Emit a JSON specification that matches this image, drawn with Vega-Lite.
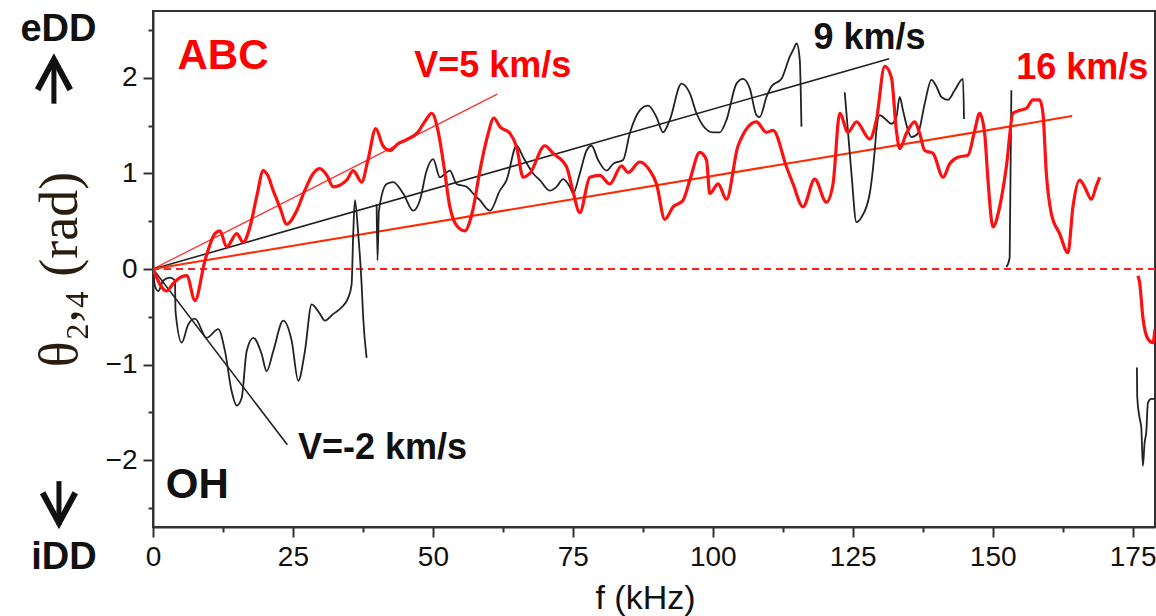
{
  "$schema": "https://vega.github.io/schema/vega-lite/v6.json",
  "width": 1002,
  "height": 516,
  "autosize": {"type": "none"},
  "padding": {"left": 153, "top": 11, "right": 1, "bottom": 89},
  "background": "white",
  "config": {
    "view": {"stroke": "#333", "strokeWidth": 2},
    "axis": {
      "domainColor": "#333",
      "domainWidth": 2,
      "tickColor": "#333",
      "tickWidth": 2,
      "grid": false,
      "labelFont": "Liberation Sans Narrow, Liberation Sans, Arial, sans-serif",
      "labelFontSize": 28,
      "labelColor": "#111",
      "titleColor": "#111"
    }
  },
  "datasets": {
    "curves": [
      {"series": "ABC", "seg": "a1", "f": 0, "v": 0},
      {"series": "ABC", "seg": "a1", "f": 2.45, "v": -0.23},
      {"series": "ABC", "seg": "a1", "f": 3.63, "v": -0.15},
      {"series": "ABC", "seg": "a1", "f": 4.82, "v": -0.09},
      {"series": "ABC", "seg": "a1", "f": 6.02, "v": -0.07},
      {"series": "ABC", "seg": "a1", "f": 7.5, "v": -0.33},
      {"series": "ABC", "seg": "a1", "f": 9.29, "v": 0.09},
      {"series": "ABC", "seg": "a1", "f": 11.07, "v": 0.37},
      {"series": "ABC", "seg": "a1", "f": 11.96, "v": 0.4},
      {"series": "ABC", "seg": "a1", "f": 13.16, "v": 0.23},
      {"series": "ABC", "seg": "a1", "f": 14.95, "v": 0.37},
      {"series": "ABC", "seg": "a1", "f": 16.13, "v": 0.28},
      {"series": "ABC", "seg": "a1", "f": 17.32, "v": 0.44},
      {"series": "ABC", "seg": "a1", "f": 18.57, "v": 0.77},
      {"series": "ABC", "seg": "a1", "f": 19.7, "v": 1.03},
      {"series": "ABC", "seg": "a1", "f": 20.5, "v": 0.98},
      {"series": "ABC", "seg": "a1", "f": 21.48, "v": 0.82},
      {"series": "ABC", "seg": "a1", "f": 22.7, "v": 0.64},
      {"series": "ABC", "seg": "a1", "f": 23.88, "v": 0.47},
      {"series": "ABC", "seg": "a1", "f": 25.66, "v": 0.61},
      {"series": "ABC", "seg": "a1", "f": 27.1, "v": 0.82},
      {"series": "ABC", "seg": "a1", "f": 28.63, "v": 1.0},
      {"series": "ABC", "seg": "a1", "f": 29.8, "v": 1.05},
      {"series": "ABC", "seg": "a1", "f": 31.07, "v": 0.98},
      {"series": "ABC", "seg": "a1", "f": 32.2, "v": 0.86},
      {"series": "ABC", "seg": "a1", "f": 34.59, "v": 0.93},
      {"series": "ABC", "seg": "a1", "f": 35.77, "v": 1.03},
      {"series": "ABC", "seg": "a1", "f": 37.27, "v": 0.91},
      {"series": "ABC", "seg": "a1", "f": 38.4, "v": 1.14},
      {"series": "ABC", "seg": "a1", "f": 39.8, "v": 1.47},
      {"series": "ABC", "seg": "a1", "f": 41.07, "v": 1.29},
      {"series": "ABC", "seg": "a1", "f": 42.3, "v": 1.24},
      {"series": "ABC", "seg": "a1", "f": 43.75, "v": 1.31},
      {"series": "ABC", "seg": "a1", "f": 45.2, "v": 1.35},
      {"series": "ABC", "seg": "a1", "f": 47.3, "v": 1.43},
      {"series": "ABC", "seg": "a1", "f": 48.75, "v": 1.56},
      {"series": "ABC", "seg": "a1", "f": 49.8, "v": 1.63},
      {"series": "ABC", "seg": "a1", "f": 50.9, "v": 1.45},
      {"series": "ABC", "seg": "a1", "f": 51.96, "v": 1.08},
      {"series": "ABC", "seg": "a1", "f": 53.0, "v": 0.66},
      {"series": "ABC", "seg": "a1", "f": 54.3, "v": 0.45},
      {"series": "ABC", "seg": "a1", "f": 55.7, "v": 0.4},
      {"series": "ABC", "seg": "a1", "f": 57.1, "v": 0.61},
      {"series": "ABC", "seg": "a1", "f": 58.4, "v": 1.03},
      {"series": "ABC", "seg": "a1", "f": 59.8, "v": 1.4},
      {"series": "ABC", "seg": "a1", "f": 60.9, "v": 1.58},
      {"series": "ABC", "seg": "a1", "f": 61.96, "v": 1.49},
      {"series": "ABC", "seg": "a1", "f": 63.75, "v": 1.42},
      {"series": "ABC", "seg": "a1", "f": 64.95, "v": 1.28},
      {"series": "ABC", "seg": "a1", "f": 66.13, "v": 0.96},
      {"series": "ABC", "seg": "a1", "f": 67.32, "v": 1.0},
      {"series": "ABC", "seg": "a1", "f": 70.0, "v": 1.29},
      {"series": "ABC", "seg": "a1", "f": 71.48, "v": 1.21},
      {"series": "ABC", "seg": "a1", "f": 73.87, "v": 1.07},
      {"series": "ABC", "seg": "a1", "f": 75.0, "v": 0.82},
      {"series": "ABC", "seg": "a1", "f": 76.25, "v": 0.59},
      {"series": "ABC", "seg": "a1", "f": 78.04, "v": 0.96},
      {"series": "ABC", "seg": "a1", "f": 79.82, "v": 0.98},
      {"series": "ABC", "seg": "a1", "f": 81.6, "v": 0.89},
      {"series": "ABC", "seg": "a1", "f": 83.7, "v": 1.08},
      {"series": "ABC", "seg": "a1", "f": 84.88, "v": 1.01},
      {"series": "ABC", "seg": "a1", "f": 86.96, "v": 1.12},
      {"series": "ABC", "seg": "a1", "f": 88.75, "v": 1.03},
      {"series": "ABC", "seg": "a1", "f": 89.95, "v": 0.89},
      {"series": "ABC", "seg": "a1", "f": 91.43, "v": 0.52},
      {"series": "ABC", "seg": "a1", "f": 92.91, "v": 0.65},
      {"series": "ABC", "seg": "a1", "f": 94.7, "v": 0.72},
      {"series": "ABC", "seg": "a1", "f": 95.9, "v": 0.93},
      {"series": "ABC", "seg": "a1", "f": 97.68, "v": 1.22},
      {"series": "ABC", "seg": "a1", "f": 98.88, "v": 1.14},
      {"series": "ABC", "seg": "a1", "f": 99.46, "v": 0.79},
      {"series": "ABC", "seg": "a1", "f": 100.95, "v": 0.89},
      {"series": "ABC", "seg": "a1", "f": 102.45, "v": 0.73},
      {"series": "ABC", "seg": "a1", "f": 104.52, "v": 1.29},
      {"series": "ABC", "seg": "a1", "f": 107.8, "v": 1.54},
      {"series": "ABC", "seg": "a1", "f": 109.59, "v": 1.43},
      {"series": "ABC", "seg": "a1", "f": 110.77, "v": 1.45},
      {"series": "ABC", "seg": "a1", "f": 113.16, "v": 1.07},
      {"series": "ABC", "seg": "a1", "f": 114.34, "v": 0.89},
      {"series": "ABC", "seg": "a1", "f": 116.13, "v": 0.65},
      {"series": "ABC", "seg": "a1", "f": 118.21, "v": 0.94},
      {"series": "ABC", "seg": "a1", "f": 120.3, "v": 0.7},
      {"series": "ABC", "seg": "a1", "f": 121.48, "v": 0.89},
      {"series": "ABC", "seg": "a1", "f": 122.68, "v": 1.63},
      {"series": "ABC", "seg": "a1", "f": 124.16, "v": 1.43},
      {"series": "ABC", "seg": "a1", "f": 125.66, "v": 1.54},
      {"series": "ABC", "seg": "a1", "f": 128.04, "v": 1.36},
      {"series": "ABC", "seg": "a1", "f": 129.23, "v": 1.56},
      {"series": "ABC", "seg": "a1", "f": 130.7, "v": 2.12},
      {"series": "ABC", "seg": "a1", "f": 131.9, "v": 2.01},
      {"series": "ABC", "seg": "a1", "f": 132.8, "v": 1.45},
      {"series": "ABC", "seg": "a1", "f": 133.39, "v": 1.26},
      {"series": "ABC", "seg": "a1", "f": 134.59, "v": 1.42},
      {"series": "ABC", "seg": "a1", "f": 136.07, "v": 1.54},
      {"series": "ABC", "seg": "a1", "f": 136.96, "v": 1.42},
      {"series": "ABC", "seg": "a1", "f": 137.86, "v": 1.24},
      {"series": "ABC", "seg": "a1", "f": 139.34, "v": 1.21},
      {"series": "ABC", "seg": "a1", "f": 141.13, "v": 0.96},
      {"series": "ABC", "seg": "a1", "f": 142.32, "v": 1.1},
      {"series": "ABC", "seg": "a1", "f": 143.8, "v": 1.17},
      {"series": "ABC", "seg": "a1", "f": 145.59, "v": 1.19},
      {"series": "ABC", "seg": "a1", "f": 146.79, "v": 1.45},
      {"series": "ABC", "seg": "a1", "f": 147.68, "v": 1.63},
      {"series": "ABC", "seg": "a1", "f": 148.57, "v": 1.42},
      {"series": "ABC", "seg": "a1", "f": 149.16, "v": 0.93},
      {"series": "ABC", "seg": "a1", "f": 150.05, "v": 0.44},
      {"series": "ABC", "seg": "a1", "f": 151.25, "v": 0.65},
      {"series": "ABC", "seg": "a1", "f": 152.45, "v": 1.07},
      {"series": "ABC", "seg": "a1", "f": 153.63, "v": 1.63},
      {"series": "ABC", "seg": "a1", "f": 154.82, "v": 1.66},
      {"series": "ABC", "seg": "a1", "f": 156.02, "v": 1.68},
      {"series": "ABC", "seg": "a1", "f": 157.2, "v": 1.77},
      {"series": "ABC", "seg": "a1", "f": 158.39, "v": 1.77},
      {"series": "ABC", "seg": "a1", "f": 158.98, "v": 1.63},
      {"series": "ABC", "seg": "a1", "f": 159.59, "v": 1.0},
      {"series": "ABC", "seg": "a1", "f": 160.48, "v": 0.58},
      {"series": "ABC", "seg": "a1", "f": 161.96, "v": 0.37},
      {"series": "ABC", "seg": "a1", "f": 163.45, "v": 0.17},
      {"series": "ABC", "seg": "a1", "f": 164.34, "v": 0.65},
      {"series": "ABC", "seg": "a1", "f": 165.54, "v": 0.93},
      {"series": "ABC", "seg": "a1", "f": 166.43, "v": 0.86},
      {"series": "ABC", "seg": "a1", "f": 167.63, "v": 0.73},
      {"series": "ABC", "seg": "a1", "f": 168.52, "v": 0.87},
      {"series": "ABC", "seg": "a1", "f": 169.11, "v": 0.96},
      {"series": "ABC", "seg": "a2", "f": 175.95, "v": -0.07},
      {"series": "ABC", "seg": "a2", "f": 176.25, "v": -0.14},
      {"series": "ABC", "seg": "a2", "f": 176.84, "v": -0.51},
      {"series": "ABC", "seg": "a2", "f": 177.73, "v": -0.73},
      {"series": "ABC", "seg": "a2", "f": 178.63, "v": -0.77},
      {"series": "ABC", "seg": "a2", "f": 179.0, "v": -0.63},
      {"series": "OH", "seg": "b1", "f": 0, "v": 0},
      {"series": "OH", "seg": "b1", "f": 0.36, "v": -0.18},
      {"series": "OH", "seg": "b1", "f": 0.95, "v": -0.23},
      {"series": "OH", "seg": "b1", "f": 1.84, "v": -0.12},
      {"series": "OH", "seg": "b1", "f": 3.04, "v": -0.09},
      {"series": "OH", "seg": "b1", "f": 3.93, "v": -0.12},
      {"series": "OH", "seg": "b1", "f": 4.02, "v": -0.44},
      {"series": "OH", "seg": "b1", "f": 5.13, "v": -0.77},
      {"series": "OH", "seg": "b1", "f": 6.3, "v": -0.58},
      {"series": "OH", "seg": "b1", "f": 7.5, "v": -0.52},
      {"series": "OH", "seg": "b1", "f": 9.59, "v": -0.72},
      {"series": "OH", "seg": "b1", "f": 11.66, "v": -0.63},
      {"series": "OH", "seg": "b1", "f": 12.86, "v": -0.86},
      {"series": "OH", "seg": "b1", "f": 14.05, "v": -1.28},
      {"series": "OH", "seg": "b1", "f": 14.95, "v": -1.43},
      {"series": "OH", "seg": "b1", "f": 15.84, "v": -1.35},
      {"series": "OH", "seg": "b1", "f": 16.73, "v": -0.86},
      {"series": "OH", "seg": "b1", "f": 17.91, "v": -0.72},
      {"series": "OH", "seg": "b1", "f": 19.41, "v": -0.89},
      {"series": "OH", "seg": "b1", "f": 20.3, "v": -1.07},
      {"series": "OH", "seg": "b1", "f": 21.48, "v": -0.86},
      {"series": "OH", "seg": "b1", "f": 23.27, "v": -0.54},
      {"series": "OH", "seg": "b1", "f": 24.77, "v": -0.75},
      {"series": "OH", "seg": "b1", "f": 25.95, "v": -1.17},
      {"series": "OH", "seg": "b1", "f": 27.14, "v": -0.86},
      {"series": "OH", "seg": "b1", "f": 28.34, "v": -0.37},
      {"series": "OH", "seg": "b1", "f": 29.82, "v": -0.47},
      {"series": "OH", "seg": "b1", "f": 30.71, "v": -0.54},
      {"series": "OH", "seg": "b1", "f": 32.2, "v": -0.47},
      {"series": "OH", "seg": "b1", "f": 33.7, "v": -0.4},
      {"series": "OH", "seg": "b1", "f": 34.88, "v": -0.3},
      {"series": "OH", "seg": "b1", "f": 35.48, "v": -0.16},
      {"series": "OH", "seg": "b1", "f": 35.77, "v": 0.37},
      {"series": "OH", "seg": "b1", "f": 36.07, "v": 0.72},
      {"series": "OH", "seg": "b1", "f": 36.66, "v": 0.37},
      {"series": "OH", "seg": "b1", "f": 37.27, "v": -0.16},
      {"series": "OH", "seg": "b1", "f": 37.55, "v": -0.51},
      {"series": "OH", "seg": "b1", "f": 38.16, "v": -0.93},
      {"series": "OH", "seg": "b2", "f": 39.95, "v": 0.68},
      {"series": "OH", "seg": "b2", "f": 40.1, "v": 0.09},
      {"series": "OH", "seg": "b2", "f": 40.36, "v": 0.61},
      {"series": "OH", "seg": "b2", "f": 41.73, "v": 0.89},
      {"series": "OH", "seg": "b2", "f": 42.91, "v": 0.91},
      {"series": "OH", "seg": "b2", "f": 44.7, "v": 0.79},
      {"series": "OH", "seg": "b2", "f": 46.48, "v": 0.61},
      {"series": "OH", "seg": "b2", "f": 47.68, "v": 0.72},
      {"series": "OH", "seg": "b2", "f": 48.88, "v": 1.03},
      {"series": "OH", "seg": "b2", "f": 50.05, "v": 1.15},
      {"series": "OH", "seg": "b2", "f": 51.25, "v": 0.96},
      {"series": "OH", "seg": "b2", "f": 53.04, "v": 1.03},
      {"series": "OH", "seg": "b2", "f": 54.23, "v": 0.89},
      {"series": "OH", "seg": "b2", "f": 56.02, "v": 0.86},
      {"series": "OH", "seg": "b2", "f": 57.5, "v": 0.77},
      {"series": "OH", "seg": "b2", "f": 58.4, "v": 0.72},
      {"series": "OH", "seg": "b2", "f": 60.2, "v": 0.61},
      {"series": "OH", "seg": "b2", "f": 61.96, "v": 0.82},
      {"series": "OH", "seg": "b2", "f": 63.16, "v": 0.93},
      {"series": "OH", "seg": "b2", "f": 64.95, "v": 1.29},
      {"series": "OH", "seg": "b2", "f": 66.13, "v": 1.17},
      {"series": "OH", "seg": "b2", "f": 67.91, "v": 1.0},
      {"series": "OH", "seg": "b2", "f": 69.11, "v": 0.93},
      {"series": "OH", "seg": "b2", "f": 70.89, "v": 0.82},
      {"series": "OH", "seg": "b2", "f": 72.09, "v": 0.86},
      {"series": "OH", "seg": "b2", "f": 73.27, "v": 0.94},
      {"series": "OH", "seg": "b2", "f": 74.46, "v": 0.86},
      {"series": "OH", "seg": "b2", "f": 75.05, "v": 0.79},
      {"series": "OH", "seg": "b2", "f": 76.25, "v": 1.0},
      {"series": "OH", "seg": "b2", "f": 77.45, "v": 1.24},
      {"series": "OH", "seg": "b2", "f": 78.34, "v": 1.29},
      {"series": "OH", "seg": "b2", "f": 79.52, "v": 1.14},
      {"series": "OH", "seg": "b2", "f": 81.02, "v": 1.03},
      {"series": "OH", "seg": "b2", "f": 82.2, "v": 1.1},
      {"series": "OH", "seg": "b2", "f": 83.98, "v": 1.14},
      {"series": "OH", "seg": "b2", "f": 85.18, "v": 1.42},
      {"series": "OH", "seg": "b2", "f": 86.96, "v": 1.66},
      {"series": "OH", "seg": "b2", "f": 88.45, "v": 1.71},
      {"series": "OH", "seg": "b2", "f": 89.95, "v": 1.59},
      {"series": "OH", "seg": "b2", "f": 91.13, "v": 1.43},
      {"series": "OH", "seg": "b2", "f": 92.32, "v": 1.56},
      {"series": "OH", "seg": "b2", "f": 94.41, "v": 1.94},
      {"series": "OH", "seg": "b2", "f": 95.89, "v": 1.84},
      {"series": "OH", "seg": "b2", "f": 97.09, "v": 1.63},
      {"series": "OH", "seg": "b2", "f": 98.27, "v": 1.5},
      {"series": "OH", "seg": "b2", "f": 100.05, "v": 1.43},
      {"series": "OH", "seg": "b2", "f": 101.25, "v": 1.43},
      {"series": "OH", "seg": "b2", "f": 102.45, "v": 1.56},
      {"series": "OH", "seg": "b2", "f": 104.23, "v": 1.94},
      {"series": "OH", "seg": "b2", "f": 105.41, "v": 1.99},
      {"series": "OH", "seg": "b2", "f": 106.61, "v": 1.89},
      {"series": "OH", "seg": "b2", "f": 107.8, "v": 1.61},
      {"series": "OH", "seg": "b2", "f": 108.39, "v": 1.59},
      {"series": "OH", "seg": "b2", "f": 109.59, "v": 1.8},
      {"series": "OH", "seg": "b2", "f": 110.48, "v": 1.91},
      {"series": "OH", "seg": "b2", "f": 112.27, "v": 1.99},
      {"series": "OH", "seg": "b2", "f": 113.75, "v": 2.22},
      {"series": "OH", "seg": "b2", "f": 114.34, "v": 2.29},
      {"series": "OH", "seg": "b2", "f": 115.0, "v": 2.36},
      {"series": "OH", "seg": "b2", "f": 115.54, "v": 2.19},
      {"series": "OH", "seg": "b2", "f": 115.84, "v": 1.49},
      {"series": "OH", "seg": "b3", "f": 123.57, "v": 1.85},
      {"series": "OH", "seg": "b3", "f": 124.77, "v": 1.0},
      {"series": "OH", "seg": "b3", "f": 125.66, "v": 0.49},
      {"series": "OH", "seg": "b3", "f": 126.55, "v": 0.54},
      {"series": "OH", "seg": "b3", "f": 128.04, "v": 0.79},
      {"series": "OH", "seg": "b3", "f": 128.93, "v": 1.24},
      {"series": "OH", "seg": "b3", "f": 129.23, "v": 1.45},
      {"series": "OH", "seg": "b3", "f": 129.82, "v": 1.61},
      {"series": "OH", "seg": "b3", "f": 131.02, "v": 1.56},
      {"series": "OH", "seg": "b3", "f": 131.91, "v": 1.52},
      {"series": "OH", "seg": "b3", "f": 132.8, "v": 1.59},
      {"series": "OH", "seg": "b3", "f": 133.39, "v": 1.8},
      {"series": "OH", "seg": "b3", "f": 133.98, "v": 1.66},
      {"series": "OH", "seg": "b3", "f": 134.88, "v": 1.45},
      {"series": "OH", "seg": "b3", "f": 135.48, "v": 1.38},
      {"series": "OH", "seg": "b3", "f": 136.66, "v": 1.42},
      {"series": "OH", "seg": "b3", "f": 137.86, "v": 1.73},
      {"series": "OH", "seg": "b3", "f": 139.05, "v": 1.98},
      {"series": "OH", "seg": "b3", "f": 139.95, "v": 1.91},
      {"series": "OH", "seg": "b3", "f": 140.84, "v": 1.8},
      {"series": "OH", "seg": "b3", "f": 142.02, "v": 1.77},
      {"series": "OH", "seg": "b3", "f": 143.21, "v": 1.87},
      {"series": "OH", "seg": "b3", "f": 144.7, "v": 1.99},
      {"series": "OH", "seg": "b3", "f": 144.88, "v": 1.57},
      {"series": "OH", "seg": "b4", "f": 152.45, "v": 0.02},
      {"series": "OH", "seg": "b4", "f": 153.04, "v": 0.12},
      {"series": "OH", "seg": "b4", "f": 153.34, "v": 1.87},
      {"series": "OH", "seg": "b5", "f": 175.77, "v": -1.03},
      {"series": "OH", "seg": "b5", "f": 175.82, "v": -1.33},
      {"series": "OH", "seg": "b5", "f": 176.25, "v": -1.56},
      {"series": "OH", "seg": "b5", "f": 176.55, "v": -1.66},
      {"series": "OH", "seg": "b5", "f": 176.84, "v": -2.06},
      {"series": "OH", "seg": "b5", "f": 177.14, "v": -1.82},
      {"series": "OH", "seg": "b5", "f": 177.45, "v": -1.7},
      {"series": "OH", "seg": "b5", "f": 177.73, "v": -1.4},
      {"series": "OH", "seg": "b5", "f": 178.34, "v": -1.36},
      {"series": "OH", "seg": "b5", "f": 179.0, "v": -1.36}
    ],
    "fits": [
      {"fit": "V=5", "f": 0, "v": 0},
      {"fit": "V=5", "f": 61.5, "v": 1.83},
      {"fit": "V=9", "f": 0, "v": 0},
      {"fit": "V=9", "f": 131.5, "v": 2.2},
      {"fit": "V=16", "f": 0, "v": 0},
      {"fit": "V=16", "f": 164.2, "v": 1.6},
      {"fit": "V=-2", "f": 0, "v": 0},
      {"fit": "V=-2", "f": 24.0, "v": -1.84}
    ],
    "notes": [
      {"label": "ABC", "group": "series", "color": "ABC", "f": 12.5, "v": 2.23},
      {"label": "OH", "group": "series", "color": "OH", "f": 7.9, "v": -2.26},
      {"label": "V=5 km/s", "group": "speed", "color": "ABC", "f": 60.7, "v": 2.12},
      {"label": "9 km/s", "group": "speed", "color": "OH", "f": 128.0, "v": 2.42},
      {"label": "16 km/s", "group": "speed", "color": "ABC", "f": 166.0, "v": 2.1},
      {"label": "V=-2 km/s", "group": "speed", "color": "OH", "f": 41.0, "v": -1.875},
      {"label": "eDD", "group": "side", "color": "OH", "f": -16.9, "v": 2.5},
      {"label": "iDD", "group": "side", "color": "OH", "f": -15.9, "v": -3.02}
    ],
    "arrows": [
      {"dir": "up", "f": -17.7, "head": 2.06, "from": 1.73, "to": 2.2},
      {"dir": "down", "f": -16.8, "head": -2.526, "from": -2.22, "to": -2.68}
    ]
  },
  "encoding": {
    "x": {
      "field": "f",
      "type": "quantitative",
      "scale": {"domain": [0, 179], "nice": false, "zero": false},
      "axis": {
        "title": "f (kHz)",
        "titleFont": "Liberation Sans Narrow, Liberation Sans, Arial, sans-serif",
        "titleFontSize": 34,
        "titleFontWeight": "normal",
        "titleX": 492,
        "titleY": 81,
        "titleBaseline": "alphabetic",
        "values": [0, 12.5, 25, 37.5, 50, 62.5, 75, 87.5, 100, 112.5, 125, 137.5, 150, 162.5, 175],
        "labelExpr": "datum.value % 25 === 0 ? format(datum.value, 'd') : ''",
        "tickSize": {"condition": {"test": "datum.value % 25 !== 0", "value": 5}, "value": 10},
        "labelPadding": 6,
        "labelFlush": false,
        "labelOverlap": false
      }
    },
    "y": {
      "field": "v",
      "type": "quantitative",
      "scale": {"domain": [-2.7, 2.7], "nice": false, "zero": false},
      "axis": {
        "title": "θ₂,₄ (rad)",
        "titleFont": "Liberation Serif, Times New Roman, serif",
        "titleFontSize": 54,
        "titleFontWeight": "normal",
        "titleColor": "#2a1d10",
        "titleX": -66,
        "titleBaseline": "bottom",
        "values": [-2.5, -2, -1.5, -1, -0.5, 0, 0.5, 1, 1.5, 2, 2.5],
        "labelExpr": "datum.value % 1 === 0 ? format(datum.value, 'd') : ''",
        "tickSize": {"condition": {"test": "datum.value % 1 !== 0", "value": 5}, "value": 10},
        "labelPadding": 6,
        "labelFlush": false,
        "labelOverlap": false
      }
    }
  },
  "layer": [
    {
      "data": {"values": [{"v": 0}]},
      "mark": {"type": "rule", "color": "#ff2020", "strokeWidth": 2, "strokeDash": [7, 5]},
      "encoding": {"x": null, "y": {"field": "v", "type": "quantitative"}}
    },
    {
      "data": {"name": "fits"},
      "transform": [{"filter": "datum.fit === 'V=5'"}],
      "mark": {"type": "line", "color": "#ff3030", "strokeWidth": 1.3, "clip": true},
      "encoding": {"detail": {"field": "fit"}}
    },
    {
      "data": {"name": "fits"},
      "transform": [{"filter": "datum.fit === 'V=9' || datum.fit === 'V=-2'"}],
      "mark": {"type": "line", "color": "#222", "strokeWidth": 1.6, "clip": true},
      "encoding": {"detail": {"field": "fit"}}
    },
    {
      "data": {"name": "fits"},
      "transform": [{"filter": "datum.fit === 'V=16'"}],
      "mark": {"type": "line", "color": "#ff2a00", "strokeWidth": 2, "clip": true},
      "encoding": {"detail": {"field": "fit"}}
    },
    {
      "data": {"name": "curves"},
      "transform": [{"filter": "datum.series === 'OH'"}],
      "mark": {"type": "line", "color": "#222", "strokeWidth": 1.8, "clip": true, "interpolate": "monotone"},
      "encoding": {"detail": {"field": "seg"}}
    },
    {
      "data": {"name": "curves"},
      "transform": [{"filter": "datum.series === 'ABC'"}],
      "mark": {"type": "line", "color": "#ff1010", "strokeWidth": 3.2, "clip": true, "strokeJoin": "round", "interpolate": "monotone"},
      "encoding": {"detail": {"field": "seg"}}
    },
    {
      "data": {"name": "notes"},
      "transform": [{"filter": "datum.group === 'series'"}],
      "mark": {"type": "text", "font": "Liberation Sans, Arial, sans-serif", "fontWeight": "bold", "fontSize": 42, "baseline": "middle", "align": "center"},
      "encoding": {
        "text": {"field": "label"},
        "color": {"field": "color", "type": "nominal", "scale": {"domain": ["ABC", "OH"], "range": ["#ff0000", "#111111"]}, "legend": null}
      }
    },
    {
      "data": {"name": "notes"},
      "transform": [{"filter": "datum.group === 'speed'"}],
      "mark": {"type": "text", "font": "Liberation Sans, Arial, sans-serif", "fontWeight": "bold", "fontSize": 36, "baseline": "middle", "align": "center"},
      "encoding": {
        "text": {"field": "label"},
        "color": {"field": "color", "type": "nominal", "scale": {"domain": ["ABC", "OH"], "range": ["#ff0000", "#111111"]}, "legend": null}
      }
    },
    {
      "data": {"name": "notes"},
      "transform": [{"filter": "datum.group === 'side'"}],
      "mark": {"type": "text", "font": "Liberation Sans, Arial, sans-serif", "fontWeight": "bold", "fontSize": 38, "baseline": "middle", "align": "center", "color": "#111"},
      "encoding": {"text": {"field": "label"}}
    },
    {
      "data": {"name": "arrows"},
      "mark": {"type": "rule", "color": "#111", "strokeWidth": 5},
      "encoding": {"y": {"field": "from", "type": "quantitative"}, "y2": {"field": "to"}}
    },
    {
      "data": {"name": "arrows"},
      "mark": {"type": "point", "filled": true, "color": "#111", "size": 1444, "opacity": 1, "strokeWidth": 0},
      "encoding": {
        "y": {"field": "head", "type": "quantitative"},
        "shape": {
          "field": "dir",
          "type": "nominal",
          "scale": {"domain": ["up", "down"], "range": ["M0,-1L1,0.85L0.72,1L0,-0.35L-0.72,1L-1,0.85Z", "M0,1L1,-0.85L0.72,-1L0,0.35L-0.72,-1L-1,-0.85Z"]},
          "legend": null
        }
      }
    }
  ]
}
